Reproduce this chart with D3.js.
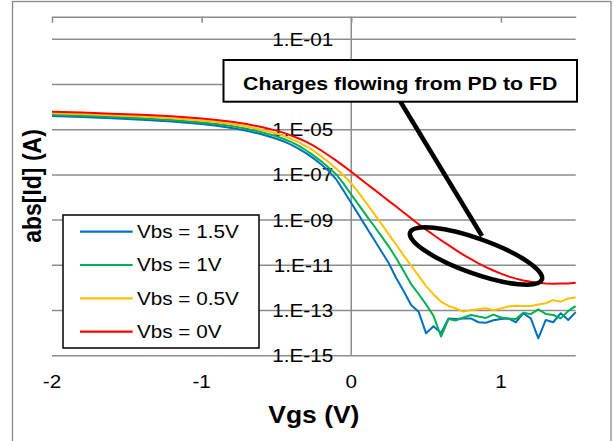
<!DOCTYPE html>
<html>
<head>
<meta charset="utf-8">
<script src="https://cdn.jsdelivr.net/npm/d3@7"></script>
<style>
  body { margin: 0; background: #fff; }
  svg { display: block; }
  text { font-family: "Liberation Sans", Arial, sans-serif; fill: #000; }
</style>
</head>
<body>
<svg id="chart" width="614" height="441"></svg>
<script>
// Gate voltage sweep (V)
const vgs = [-2, -1.8, -1.6, -1.4, -1.2, -1, -0.9, -0.8, -0.7, -0.6,
  -0.5, -0.45, -0.4, -0.35, -0.3, -0.25, -0.2, -0.15, -0.1, -0.05,
  0, 0.05, 0.1, 0.15, 0.2, 0.25, 0.3, 0.35, 0.4, 0.45,
  0.5, 0.55, 0.6, 0.65, 0.7, 0.75, 0.8, 0.85, 0.9, 0.95,
  1, 1.05, 1.1, 1.15, 1.2, 1.25, 1.3, 1.35, 1.4, 1.45, 1.5];

// abs(Id) for each body bias, stored as powers of ten (log10 of amperes)
const logIdVbs15 = [-4.39, -4.44, -4.49, -4.56, -4.64, -4.75, -4.83, -4.92, -5.05, -5.20,
  -5.40, -5.52, -5.67, -5.85, -6.05, -6.28, -6.54, -6.83, -7.20, -7.71,
  -8.24, -8.77, -9.31, -9.84, -10.37, -10.90, -11.56, -12.14, -12.76, -13.05,
  -14.01, -13.70, -14.00, -13.35, -13.38, -13.35, -13.35, -13.52, -13.54, -13.43,
  -13.38, -13.35, -13.52, -13.12, -13.35, -14.23, -13.42, -13.52, -13.12, -13.42, -13.07];
const logIdVbs1 = [-4.33, -4.38, -4.43, -4.49, -4.57, -4.68, -4.75, -4.84, -4.96, -5.11,
  -5.29, -5.41, -5.55, -5.72, -5.92, -6.15, -6.40, -6.68, -6.98, -7.40,
  -7.87, -8.33, -8.79, -9.24, -9.70, -10.16, -10.68, -11.25, -11.83, -12.27,
  -12.73, -13.24, -14.15, -13.38, -13.44, -13.31, -13.20, -13.27, -13.33, -13.18,
  -13.31, -13.35, -13.38, -13.10, -13.16, -12.95, -13.15, -13.20, -13.35, -13.02, -12.81];
const logIdVbs05 = [-4.27, -4.31, -4.36, -4.42, -4.49, -4.59, -4.66, -4.75, -4.86, -5.00,
  -5.17, -5.28, -5.41, -5.56, -5.74, -5.94, -6.18, -6.44, -6.73, -7.03,
  -7.37, -7.80, -8.24, -8.69, -9.15, -9.62, -10.09, -10.56, -11.01, -11.47,
  -11.92, -12.29, -12.61, -12.80, -12.91, -13.05, -12.98, -12.94, -12.90, -12.99,
  -12.91, -12.82, -12.79, -12.80, -12.80, -12.73, -12.68, -12.54, -12.61, -12.47, -12.42];
const logIdVbs0 = [-4.21, -4.24, -4.29, -4.34, -4.41, -4.50, -4.57, -4.65, -4.75, -4.88,
  -5.04, -5.14, -5.26, -5.39, -5.54, -5.72, -5.92, -6.14, -6.37, -6.61,
  -6.86, -7.12, -7.38, -7.63, -7.89, -8.15, -8.40, -8.66, -8.92, -9.18,
  -9.42, -9.66, -9.89, -10.11, -10.33, -10.54, -10.73, -10.91, -11.08, -11.23,
  -11.37, -11.49, -11.59, -11.67, -11.73, -11.77, -11.81, -11.82, -11.81, -11.80, -11.77];

const seriesNames = ["Vbs = 1.5V", "Vbs = 1V", "Vbs = 0.5V", "Vbs = 0V"];
const seriesColors = ["#0070C0", "#00B050", "#FFC000", "#FF0000"];
const seriesValues = [logIdVbs15, logIdVbs1, logIdVbs05, logIdVbs0];

const xTickValues = [-2, -1, 0, 1];
const xTickLabels = ["-2", "-1", "0", "1"];
// gridlines every two decades
const yGridExponents = [-15, -13, -11, -9, -7, -5, -3, -1];
// labelled decades (the 1e-3 label sits under the callout box)
const yLabelExponents = [-15, -13, -11, -9, -7, -5, -1];
const yLabelTexts = ["1.E-15", "1.E-13", "1.E-11", "1.E-09", "1.E-07", "1.E-05", "1.E-01"];
const xTitle = "Vgs (V)";
const yTitle = "abs[Id] (A)";
const calloutText = "Charges flowing from PD to FD";

// ---- layout ----
const svg = d3.select("#chart");
const plot = { left: 52, right: 575.7, top: 16.7, bottom: 355.7 };
const SX = 1.15;          // horizontal text stretch
const gridColor = "#8c8c8c";

const x = d3.scaleLinear().domain([-2, 1.5]).range([plot.left, plot.right]);
const y = d3.scaleLog().domain([1e-15, 1]).range([plot.bottom, plot.top]);

// outer chart frame
svg.append("rect")
  .attr("x", 12.5).attr("y", 1.5).attr("width", 598.5).attr("height", 470)
  .attr("fill", "#fff").attr("stroke", "#888").attr("stroke-width", 1.3);

// horizontal gridlines
svg.append("g").selectAll("line").data(yGridExponents).join("line")
  .attr("x1", plot.left).attr("x2", plot.right)
  .attr("y1", d => y(10 ** d)).attr("y2", d => y(10 ** d))
  .attr("stroke", gridColor).attr("stroke-width", 1.5);

// horizontal axis line across the top with downward ticks
const topAxis = svg.append("g")
  .attr("transform", `translate(0,${y(1)})`)
  .call(d3.axisTop(x).tickValues(xTickValues).tickSizeInner(-6).tickSizeOuter(0).tickFormat(""));
topAxis.select(".domain").attr("stroke", gridColor).attr("stroke-width", 1.5);
topAxis.selectAll(".tick line").attr("stroke", gridColor).attr("stroke-width", 1.5);

// vertical axis at Vgs = 0
svg.append("line")
  .attr("x1", x(0)).attr("x2", x(0)).attr("y1", y(1)).attr("y2", y(1e-15))
  .attr("stroke", gridColor).attr("stroke-width", 1.5);

// y tick labels (left of the vertical axis, centred on the gridlines)
svg.append("g").selectAll("text").data(yLabelExponents).join("text")
  .attr("transform", d => `translate(${x(0) - 18},${y(10 ** d) + 6.4}) scale(${SX},1)`)
  .attr("text-anchor", "end").attr("font-size", 18)
  .text((d, i) => yLabelTexts[i]);

// x tick labels along the bottom
svg.append("g").selectAll("text").data(xTickValues).join("text")
  .attr("transform", d => `translate(${x(d)},387.6) scale(${SX},1)`)
  .attr("text-anchor", "middle").attr("font-size", 18)
  .text((d, i) => xTickLabels[i]);

// axis titles
svg.append("text")
  .attr("transform", `translate(${(plot.left + plot.right) / 2},423.3) scale(${SX},1)`)
  .attr("text-anchor", "middle").attr("font-size", 23).attr("font-weight", "bold")
  .text(xTitle);
svg.append("text")
  .attr("transform", `translate(40.5,186) scale(${SX},1) rotate(-90)`)
  .attr("text-anchor", "middle").attr("font-size", 23).attr("font-weight", "bold")
  .text(yTitle);

// data series
const line = d3.line()
  .x((d, i) => x(vgs[i]))
  .y(d => y(10 ** d));
svg.append("g").selectAll("path").data(seriesValues).join("path")
  .attr("d", line)
  .attr("fill", "none")
  .attr("stroke", (d, i) => seriesColors[i])
  .attr("stroke-width", 2)
  .attr("stroke-linejoin", "round");

// legend
const legend = svg.append("g");
legend.append("rect")
  .attr("x", 63).attr("y", 215).attr("width", 196).attr("height", 133)
  .attr("fill", "#fff").attr("stroke", "#000").attr("stroke-width", 1.5);
const rows = legend.selectAll("g").data(seriesNames).join("g")
  .attr("transform", (d, i) => `translate(0,${231.7 + i * 33.3})`);
rows.append("line")
  .attr("x1", 80).attr("x2", 132.7)
  .attr("stroke", (d, i) => seriesColors[i]).attr("stroke-width", 2.2);
rows.append("text")
  .attr("transform", `translate(137,6.4) scale(${SX},1)`)
  .attr("font-size", 18)
  .text(d => d);

// callout: leader line, text box and ellipse around the Vbs = 0V tail
svg.append("line")
  .attr("x1", 400).attr("y1", 101).attr("x2", 482).attr("y2", 236)
  .attr("stroke", "#000").attr("stroke-width", 4.5);
svg.append("rect")
  .attr("x", 223.5).attr("y", 60).attr("width", 353.5).attr("height", 41.7)
  .attr("fill", "#fff").attr("stroke", "#000").attr("stroke-width", 2);
svg.append("text")
  .attr("transform", `translate(400.2,89.5) scale(1.12,1)`)
  .attr("text-anchor", "middle").attr("font-size", 19).attr("font-weight", "bold")
  .text(calloutText);
svg.append("ellipse")
  .attr("transform", "translate(476,256) rotate(19.7)")
  .attr("rx", 70).attr("ry", 17.5)
  .attr("fill", "none").attr("stroke", "#000").attr("stroke-width", 4.5);
</script>
</body>
</html>
